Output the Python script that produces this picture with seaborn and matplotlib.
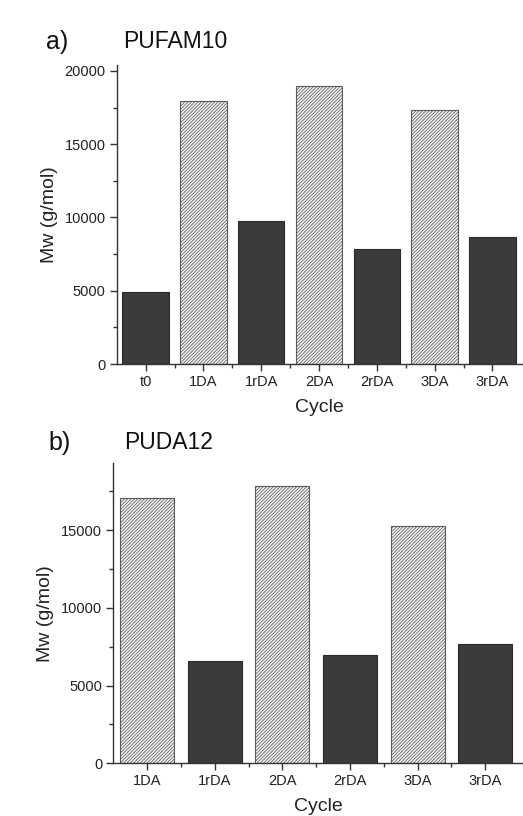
import matplotlib
matplotlib.use("Agg")
import matplotlib.pyplot as plt
import seaborn as sns
import pandas as pd
from matplotlib.ticker import MultipleLocator, FixedLocator

# Data
cats_a = ["t0", "1DA", "1rDA", "2DA", "2rDA", "3DA", "3rDA"]
mw_a = [4900, 17950, 9780, 18950, 7850, 17360, 8650]
cats_b = ["1DA", "1rDA", "2DA", "2rDA", "3DA", "3rDA"]
mw_b = [17070, 6600, 17840, 6940, 15250, 7670]

sns.set_theme(style="ticks")
plt.rcParams["font.family"] = ["Liberation Sans", "DejaVu Sans"]
plt.rcParams["hatch.linewidth"] = 0.55
plt.rcParams["hatch.color"] = "#727272"

DARK = "#3b3b3b"
LIGHT = "#f4f4f4"

fig = plt.figure(figsize=(5.23, 8.16), dpi=100)
W, H = 523, 816
ax_a = fig.add_axes([116.7 / W, 1 - 364 / H, 1 - 116.7 / W - 0.001, (364 - 65) / H])
ax_b = fig.add_axes([113.3 / W, 1 - 763.3 / H, 1 - 113.3 / W - 0.001, (763.3 - 463.3) / H])


def draw(ax, cats, vals, ymax, yticks, xmax):
    df = pd.DataFrame({"Cycle": cats, "Mw": vals})
    pal = {c: (LIGHT if "DA" in c and "r" not in c else DARK) for c in cats}
    sns.barplot(data=df, x="Cycle", y="Mw", hue="Cycle", palette=pal,
                legend=False, ax=ax, width=0.8, saturation=1, order=cats)
    for p, c in zip(ax.patches, cats):
        if pal[c] == LIGHT:
            p.set_hatch("/" * 10)
            p.set_edgecolor("#5a5a5a")
        else:
            p.set_edgecolor("#2a2a2a")
        p.set_linewidth(0.8)
    ax.set_xlim(-0.5, xmax)
    ax.set_ylim(0, ymax)
    ax.yaxis.set_major_locator(FixedLocator(yticks))
    ax.yaxis.set_minor_locator(MultipleLocator(2500))
    ax.xaxis.set_minor_locator(FixedLocator([i + 0.5 for i in range(len(cats) - 1)]))
    for s in ["top", "right"]:
        ax.spines[s].set_visible(False)
    for s in ["left", "bottom"]:
        ax.spines[s].set_color("#333333")
        ax.spines[s].set_linewidth(1.0)
    ax.tick_params(axis="both", which="major", length=5, width=1, color="#333333",
                   labelsize=10.5, labelcolor="#222222", pad=3)
    ax.tick_params(axis="both", which="minor", length=3, width=1, color="#333333")
    ax.set_xlabel("Cycle", fontsize=14, color="#222222", labelpad=7)
    ax.set_ylabel("Mw (g/mol)", fontsize=14, color="#222222", labelpad=5)


draw(ax_a, cats_a, mw_a, 20400, [0, 5000, 10000, 15000, 20000], 6.52)
draw(ax_b, cats_b, mw_b, 19300, [0, 5000, 10000, 15000], 5.55)

fig.text(46 / W, 1 - 42 / H, "a)", fontsize=18, va="center", ha="left", color="#111111")
fig.text(123 / W, 1 - 42 / H, "PUFAM10", fontsize=16.5, va="center", ha="left", color="#111111")
fig.text(48 / W, 1 - 443 / H, "b)", fontsize=18, va="center", ha="left", color="#111111")
fig.text(124 / W, 1 - 443 / H, "PUDA12", fontsize=16.5, va="center", ha="left", color="#111111")

fig.savefig("out.png", dpi=100)
